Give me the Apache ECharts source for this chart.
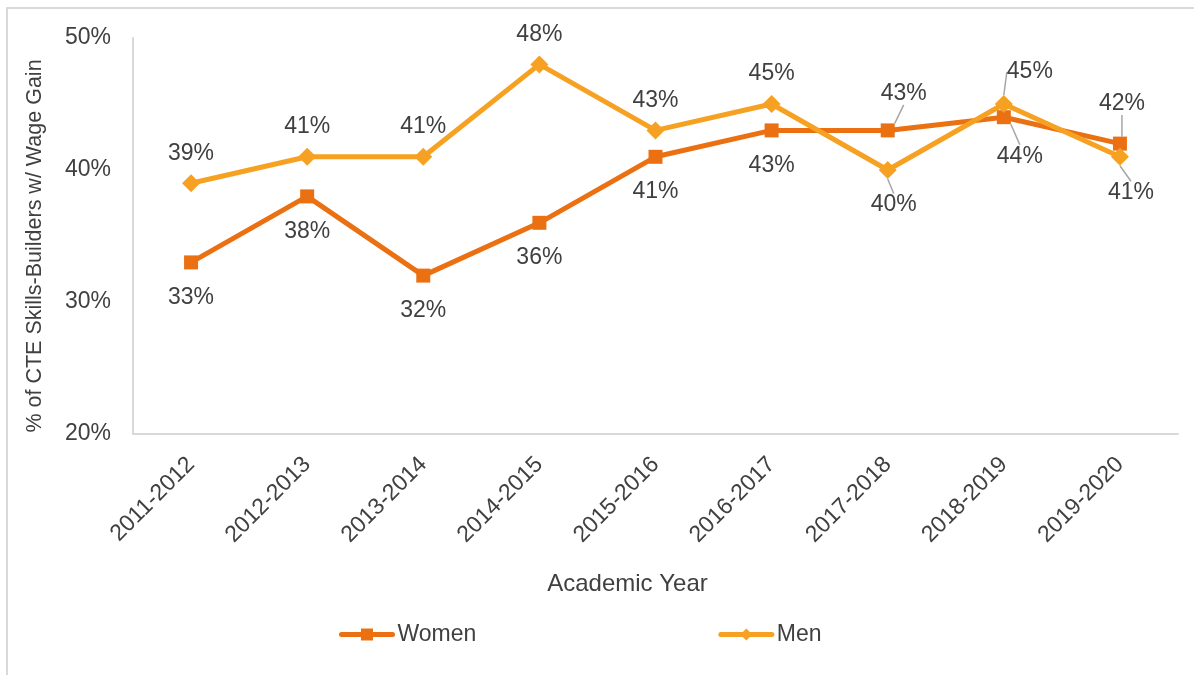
<!DOCTYPE html>
<html>
<head>
<meta charset="utf-8">
<script src="https://cdn.jsdelivr.net/npm/echarts@6/dist/echarts.min.js"></script>
<style>
  html, body { margin: 0; padding: 0; background: #fff; }
  #chart { width: 1194px; height: 675px; }
</style>
</head>
<body>
<div id="chart"></div>
<script>
// data
var years = ['2011-2012', '2012-2013', '2013-2014', '2014-2015', '2015-2016',
             '2016-2017', '2017-2018', '2018-2019', '2019-2020'];
var women = [33, 38, 32, 36, 41, 43, 43, 44, 42];
var men = [39, 41, 41, 48, 43, 45, 40, 45, 41];
var yTicks = [20, 30, 40, 50];

// which labels sit below the point (others go on top)
var womenBelow = [true, true, true, true, true, true, false, true, false];
var menBelow = [false, false, false, false, false, false, true, false, true];

// labels that were nudged away and get a leader line: [dx, dy]
var nudges = [
    { 6: [16, -2], 7: [16, 4], 8: [2, -5] },
    { 6: [6, 5], 7: [26, -2], 8: [11, 6] }
];

var textColor = '#404040';
var font = 'Liberation Sans';

function buildData(values, below, si) {
    return values.map(function (v, i) {
        var item = { value: v, label: { position: below[i] ? 'bottom' : 'top' } };
        if (nudges[si][i]) {
            item.labelLine = { show: true };
        }
        return item;
    });
}

var chart = echarts.init(document.getElementById('chart'));
chart.setOption({
    animation: false,
    textStyle: { fontFamily: font },
    graphic: [{
        type: 'rect',
        z: -1,
        shape: { x: 7, y: 8, width: 1400, height: 900 },
        style: { fill: 'none', stroke: '#d9d9d9', lineWidth: 2 }
    }],
    grid: { left: 133, right: 16, top: 38, bottom: 241 },
    legend: {
        left: 334,
        top: 618,
        itemWidth: 51,
        itemHeight: 15,
        itemGap: 242,
        lineStyle: { width: 5, cap: 'round' },
        textStyle: { color: textColor, fontSize: 23, fontFamily: font },
        data: ['Women', 'Men']
    },
    xAxis: {
        type: 'category',
        data: years,
        name: 'Academic Year',
        nameLocation: 'middle',
        nameGap: 138,
        nameTextStyle: { color: textColor, fontSize: 24, fontFamily: font, padding: [0, 56, 0, 0] },
        axisLine: { lineStyle: { color: '#d9d9d9', width: 2 } },
        axisTick: { show: false },
        axisLabel: { color: textColor, fontSize: 23, fontFamily: font, rotate: 45, interval: 0, margin: 27 }
    },
    yAxis: {
        type: 'value',
        min: yTicks[0],
        max: yTicks[yTicks.length - 1],
        interval: 10,
        name: '% of CTE Skills-Builders w/ Wage Gain',
        nameLocation: 'middle',
        nameGap: 87,
        nameTextStyle: { color: textColor, fontSize: 21.5, fontFamily: font, padding: [0, 20, 0, 0] },
        axisLine: { show: true, lineStyle: { color: '#d9d9d9', width: 2 } },
        axisTick: { show: false },
        splitLine: { show: false },
        axisLabel: { color: textColor, fontSize: 23, fontFamily: font, margin: 22, formatter: '{value}%' }
    },
    series: [
        {
            name: 'Women',
            type: 'line',
            data: buildData(women, womenBelow, 0),
            symbol: 'rect',
            symbolSize: 14,
            color: '#EB7012',
            lineStyle: { width: 5, color: '#EB7012' },
            label: { show: true, formatter: '{c}%', color: textColor, fontSize: 23, fontFamily: font, distance: 16.5 },
            labelLine: { show: false, lineStyle: { color: '#a6a6a6', width: 1.5 } },
            labelLayout: function (p) {
                var o = nudges[0][p.dataIndex];
                return o ? { dx: o[0], dy: o[1] } : {};
            }
        },
        {
            name: 'Men',
            type: 'line',
            data: buildData(men, menBelow, 1),
            symbol: 'diamond',
            symbolSize: 18,
            color: '#F6A121',
            lineStyle: { width: 5, color: '#F6A121' },
            label: { show: true, formatter: '{c}%', color: textColor, fontSize: 23, fontFamily: font, distance: 9.5 },
            labelLine: { show: false, lineStyle: { color: '#a6a6a6', width: 1.5 } },
            labelLayout: function (p) {
                var o = nudges[1][p.dataIndex];
                return o ? { dx: o[0], dy: o[1] } : {};
            }
        }
    ]
});
</script>
</body>
</html>
